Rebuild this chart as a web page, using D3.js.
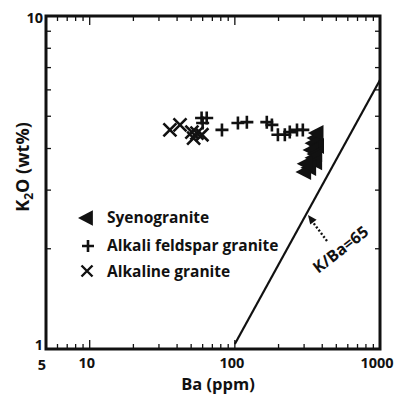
<!DOCTYPE html>
<html>
<head>
<meta charset="utf-8">
<script src="https://cdn.jsdelivr.net/npm/d3@7"></script>
<style>
  html, body { margin: 0; padding: 0; background: #fff; }
  svg { display: block; }
  text { font-family: "Open Sans", sans-serif; font-weight: 700; fill: #111; }
</style>
</head>
<body>
<svg id="chart" width="398" height="394"></svg>
<script>
// Ba (ppm) and K2O (wt%) for each rock group
const syenoBa   = [362, 351, 373, 340, 362, 351, 362, 329, 304, 370, 310];
const syenoK2O  = [4.30, 4.15, 4.07, 3.96, 3.85, 3.75, 3.64, 3.50, 3.40, 4.45, 3.60];

const afgBa     = [59, 64, 60, 81.5, 105, 121, 166, 180, 198, 221, 268, 239, 294];
const afgK2O    = [4.94, 4.94, 4.77, 4.55, 4.77, 4.80, 4.80, 4.71, 4.40, 4.40, 4.55, 4.48, 4.55];

const alkBa     = [35.7, 41.9, 50.6, 54.8, 59.3, 52];
const alkK2O    = [4.55, 4.71, 4.48, 4.45, 4.40, 4.30];

// K/Ba = 65 reference line end points (Ba, K2O)
const refBa     = [100, 1000];
const refK2O    = [1, 6.42];

const xTickLabels = [5, 10, 100, 1000];
const yTickLabels = [1, 10];
const xMinor = [6, 7, 8, 9, 20, 30, 40, 50, 60, 70, 80, 90, 200, 300, 400, 500, 600, 700, 800, 900];
const xMajor = [10, 100];
const yMinor = [2, 3, 4, 5, 6, 7, 8, 9];

const legendNames = ["Syenogranite", "Alkali feldspar granite", "Alkaline granite"];

const svg = d3.select("#chart");
const L = 46, R = 380, T = 16, B = 349;

const x = d3.scaleLog().domain([5, 1000]).range([L, R]);
const y = d3.scaleLog().domain([1, 10]).range([B, T]);

// tick marks pointing inward on all four sides
const tickG = svg.append("g").attr("stroke", "#111").attr("stroke-width", 1.3);
xMinor.forEach(v => {
  tickG.append("line").attr("x1", x(v)).attr("x2", x(v)).attr("y1", B).attr("y2", B - 5);
  tickG.append("line").attr("x1", x(v)).attr("x2", x(v)).attr("y1", T).attr("y2", T + 5);
});
xMajor.forEach(v => {
  tickG.append("line").attr("x1", x(v)).attr("x2", x(v)).attr("y1", B).attr("y2", B - 9);
  tickG.append("line").attr("x1", x(v)).attr("x2", x(v)).attr("y1", T).attr("y2", T + 9);
});
yMinor.forEach(v => {
  tickG.append("line").attr("x1", L).attr("x2", L + 5).attr("y1", y(v)).attr("y2", y(v));
  tickG.append("line").attr("x1", R).attr("x2", R - 5).attr("y1", y(v)).attr("y2", y(v));
});

// frame
svg.append("rect").attr("x", L).attr("y", T).attr("width", R - L).attr("height", B - T)
  .attr("fill", "none").attr("stroke", "#111").attr("stroke-width", 3);

// tick labels
xTickLabels.forEach(v => {
  svg.append("text").attr("x", v === 5 ? x(v) - 4 : x(v) - 3).attr("y", v === 5 ? 370 : 368)
    .attr("text-anchor", "middle").attr("font-size", 14.5).text(v);
});
yTickLabels.forEach(v => {
  svg.append("text").attr("x", L - 3).attr("y", v === 1 ? y(v) + 1 : y(v) + 7)
    .attr("text-anchor", "end").attr("font-size", 14.5).text(v);
});

// axis titles
svg.append("text").attr("x", 218).attr("y", 390).attr("text-anchor", "middle")
  .attr("font-size", 16.5).text("Ba (ppm)");
const yt = svg.append("text").attr("transform", "translate(29,167) rotate(-90)")
  .attr("text-anchor", "middle").attr("font-size", 18);
yt.append("tspan").text("K");
yt.append("tspan").attr("font-size", 12).attr("dy", 4).text("2");
yt.append("tspan").attr("dy", -4).text("O (wt%)");

// reference line
svg.append("line")
  .attr("x1", x(refBa[0])).attr("y1", y(refK2O[0]) - 5)
  .attr("x2", x(refBa[1])).attr("y2", y(refK2O[1]))
  .attr("stroke", "#111").attr("stroke-width", 2.2);

// marker shapes
const triPath = s => `M${-s},0L${s * 0.65},${-s * 0.85}L${s * 0.65},${s * 0.85}Z`;
const plusPath = s => `M${-s},0H${s}M0,${-s}V${s}`;
const crossPath = s => `M${-s},${-s}L${s},${s}M${-s},${s}L${s},${-s}`;

const pts = svg.append("g");
alkBa.forEach((b, i) => {
  pts.append("path").attr("d", crossPath(6.5))
    .attr("transform", `translate(${x(b)},${y(alkK2O[i])})`)
    .attr("stroke", "#111").attr("stroke-width", 2.6).attr("fill", "none");
});
afgBa.forEach((b, i) => {
  pts.append("path").attr("d", plusPath(6.5))
    .attr("transform", `translate(${x(b)},${y(afgK2O[i])})`)
    .attr("stroke", "#111").attr("stroke-width", 2.6).attr("fill", "none");
});
syenoBa.forEach((b, i) => {
  pts.append("path").attr("d", triPath(9.5))
    .attr("transform", `translate(${x(b)},${y(syenoK2O[i])})`)
    .attr("fill", "#111");
});

// legend
const lg = svg.append("g");
lg.append("path").attr("d", triPath(9)).attr("transform", "translate(87,218)").attr("fill", "#111");
lg.append("path").attr("d", plusPath(6)).attr("transform", "translate(88,246)")
  .attr("stroke", "#111").attr("stroke-width", 2.6).attr("fill", "none");
lg.append("path").attr("d", crossPath(5.5)).attr("transform", "translate(87,271)")
  .attr("stroke", "#111").attr("stroke-width", 2.4).attr("fill", "none");
[223, 251, 277].forEach((yy, i) => {
  lg.append("text").attr("x", 107).attr("y", yy).attr("font-size", 15.5).text(legendNames[i]);
});

// annotation arrow and label
svg.append("line").attr("x1", 327).attr("y1", 241).attr("x2", 312).attr("y2", 221)
  .attr("stroke", "#111").attr("stroke-width", 2.4).attr("stroke-dasharray", "2,2");
svg.append("path").attr("d", "M0,0L-4,9L4,9Z")
  .attr("transform", "translate(308,215) rotate(-37)").attr("fill", "#111");
svg.append("text").attr("transform", "translate(344,254) rotate(-38)")
  .attr("text-anchor", "middle").attr("font-size", 16).text("K/Ba=65");
</script>
</body>
</html>
